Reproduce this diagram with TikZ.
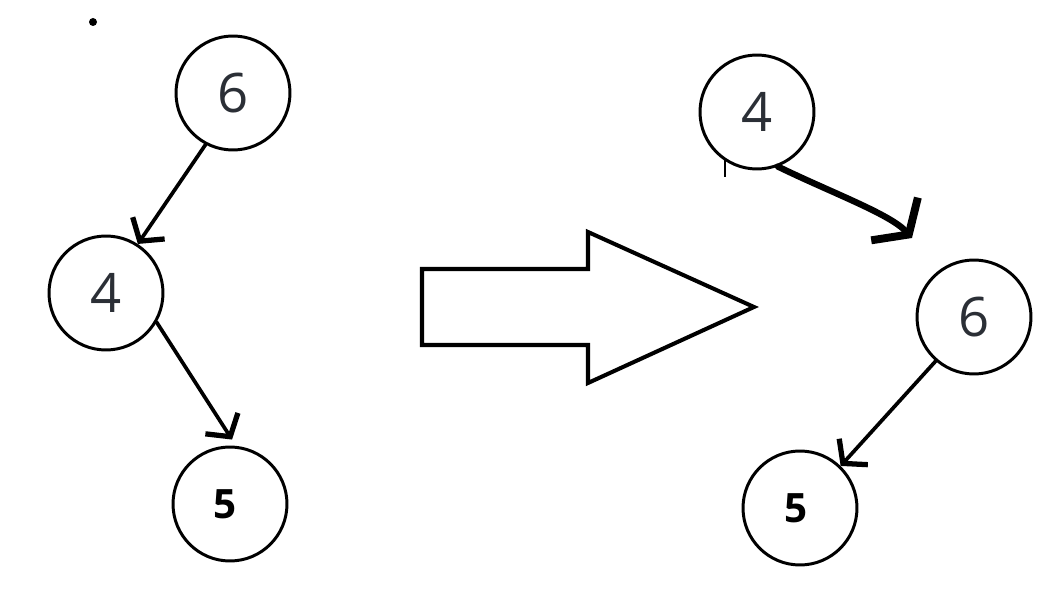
\documentclass[tikz,border=0pt]{standalone}
\usepackage{fontspec}
\setmainfont{Open Sans}
\usetikzlibrary{arrows.meta}
\definecolor{digit}{HTML}{2B2F36}

\begin{document}
\begin{tikzpicture}[x=0.02cm,y=-0.02cm]

        \tikzset{
          bst/.style={circle, draw, line width=1.7pt, minimum size=2.28cm, inner sep=0pt,
            text=digit, font=\fontsize{31}{31}\selectfont},
          leaf/.style={bst, text=black, font=\fontsize{23}{23}\selectfont\bfseries},
          edge/.style={line width=2.1pt, line cap=round,
            -{Straight Barb[length=9pt,width=22pt,line width=3pt]}},
          bigedge/.style={line width=3.6pt, line cap=round,
            -{Straight Barb[length=12pt,width=36pt,line width=4.5pt]}},
        }
        \useasboundingbox (0,0) rectangle (1049,615);

        % Before
        \node[bst] (l6) at (233,93) {6};
        \node[bst] (l4) at (106,293) {4};
        \node[leaf] (l5) at (230,504) {\hspace*{-0.2cm}5};
        \fill (93,22) circle (4);

        \draw[edge] (l6.242) -- (l4.57);
        \draw[edge] (l4.330) -- ([yshift=0.12cm]l5.88);

        % Rotation
        \draw[line width=2.3pt, line join=miter]
          (422,269) -- (588,269) -- (588,232) -- (754,307) -- (588,383) -- (588,345) -- (422,345) -- cycle;

        % After
        \node[bst] (r4) at (757,112) {4};
        \node[bst] (r6) at (974,317) {6};
        \node[leaf] (r5) at (800,508) {\hspace*{-0.15cm}5};
        \coordinate (hook) at (912,238);
        \draw[line width=1pt] (725,160) -- (725,177);

        \draw[bigedge] (r4.291) .. controls (830,192) and (890,214) .. (hook);
        \draw[edge] (r6.229) -- (r5.46);

\end{tikzpicture}
\end{document}
